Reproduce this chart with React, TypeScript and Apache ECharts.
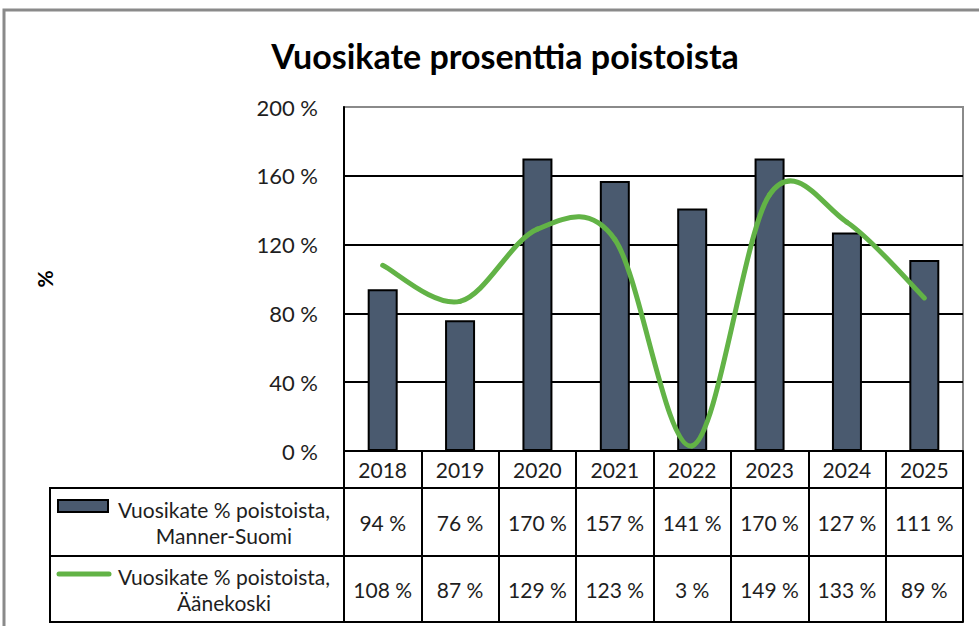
import React, { useEffect, useRef } from "react";
import * as echarts from "echarts";

const years = ["2018", "2019", "2020", "2021", "2022", "2023", "2024", "2025"];
const mannerSuomi = [94, 76, 170, 157, 141, 170, 127, 111];
const aanekoski = [108, 87, 129, 123, 3, 149, 133, 89];
const yMin = 0;
const yMax = 200;
const yInterval = 40;
const titleText = "Vuosikate prosenttia poistoista";
const seriesNames = [
  "Vuosikate % poistoista,\nManner-Suomi",
  "Vuosikate % poistoista,\nÄänekoski",
];

const FONT = "Lato";
const TXT = "#1e1e1e";
const BAR = "#4a5a6f";
const GREEN = "#62b346";

export default function App() {
  const ref = useRef<HTMLDivElement>(null);
  useEffect(() => {
    if (!ref.current) return;
    const chart = echarts.init(ref.current, null, { renderer: "svg" });
    const gl = 344, gt = 107, gw = 619, gh = 344;
    const row1 = 37, row2 = 68, row3 = 66;
    const tableLeft = 50;
    const n = aanekoski.length;
    const axisCommon = (offset: number, tickLen: number, margin: number, fmt?: (v: string, i: number) => string) => ({
      type: "category",
      data: years,
      position: "bottom",
      offset,
      boundaryGap: true,
      axisLine: { show: true, lineStyle: { color: "#000", width: 2 } },
      axisTick: { show: tickLen > 0, length: tickLen, interval: 0, lineStyle: { color: "#000", width: 2 } },
      axisLabel: {
        show: !!fmt || offset === 0,
        interval: 0,
        margin,
        verticalAlign: "middle",
        fontFamily: FONT,
        fontSize: 21,
        color: TXT,
        formatter: fmt,
      },
      splitLine: { show: false },
    });
    chart.setOption({
      animation: false,
      backgroundColor: "#fff",
      title: {
        text: titleText,
        left: 500,
        top: 33,
        textAlign: "center",
        textStyle: { fontFamily: FONT, fontWeight: "bold", fontSize: 34, color: "#000" },
      },
      grid: {
        left: gl,
        top: gt,
        width: gw,
        height: gh,
        show: true,
        borderColor: "#8a8a8a",
        borderWidth: 2,
        backgroundColor: "transparent",
      },
      xAxis: [
        axisCommon(0, row1, row1 / 2),
        axisCommon(row1, row2, row2 / 2, (_v, i) => mannerSuomi[i] + " %"),
        axisCommon(row1 + row2, row3, row3 / 2, (_v, i) => aanekoski[i] + " %"),
        axisCommon(row1 + row2 + row3, 0, 0),
      ],
      yAxis: {
        type: "value",
        min: yMin,
        max: yMax,
        interval: yInterval,
        name: "%",
        nameLocation: "middle",
        nameRotate: 90,
        nameGap: 289,
        nameTextStyle: { fontFamily: FONT, fontWeight: "bold", fontSize: 21, color: "#000" },
        axisLine: { show: true, lineStyle: { color: "#000", width: 2 } },
        axisTick: { show: false },
        axisLabel: {
          margin: 26,
          fontFamily: FONT,
          fontSize: 22,
          color: TXT,
          formatter: (v: number) => v + " %",
        },
        splitLine: {
          show: true,
          lineStyle: { color: ["#000", "#000", "#000", "#000", "#000", "#8a8a8a"], width: 2 },
        },
      },
      series: [
        {
          name: seriesNames[0],
          type: "bar",
          data: mannerSuomi,
          barWidth: 30,
          itemStyle: { color: BAR, borderColor: "#000", borderWidth: 2 },
          z: 2,
        },
        {
          name: seriesNames[1],
          type: "custom",
          data: aanekoski.map((v, i) => [i, v]),
          encode: { x: 0, y: 1 },
          clip: false,
          z: 3,
          renderItem: (params: any, api: any) => {
            const i = params.dataIndex;
            if (i >= n - 1) return null;
            const pt = (k: number) => {
              const kk = Math.max(0, Math.min(n - 1, k));
              return api.coord([kk, aanekoski[kk]]);
            };
            const p0 = pt(i - 1), p1 = pt(i), p2 = pt(i + 1), p3 = pt(i + 2);
            const c1x = p1[0] + (p2[0] - p0[0]) / 6;
            const c1y = p1[1] + (p2[1] - p0[1]) / 6;
            const c2x = p2[0] - (p3[0] - p1[0]) / 6;
            const c2y = p2[1] - (p3[1] - p1[1]) / 6;
            return {
              type: "bezierCurve",
              shape: { x1: p1[0], y1: p1[1], x2: p2[0], y2: p2[1], cpx1: c1x, cpy1: c1y, cpx2: c2x, cpy2: c2y },
              style: { stroke: GREEN, lineWidth: 5, fill: "none", lineCap: "round" },
            };
          },
        },
      ],
      graphic: [
        {
          type: "rect",
          shape: { x: 4, y: 10, width: 1000, height: 700 },
          style: { fill: "none", stroke: "#8a8a8a", lineWidth: 3 },
          silent: true,
          z: 0,
        },
        {
          type: "rect",
          shape: { x: tableLeft, y: gt + gh + row1, width: gl - tableLeft, height: row2 + row3 },
          style: { fill: "none", stroke: "#000", lineWidth: 2 },
          z: 10,
        },
        {
          type: "line",
          shape: { x1: tableLeft, y1: gt + gh + row1 + row2, x2: gl, y2: gt + gh + row1 + row2 },
          style: { stroke: "#000", lineWidth: 2 },
          z: 10,
        },
        {
          type: "rect",
          shape: { x: 58, y: 500, width: 50, height: 12 },
          style: { fill: BAR, stroke: "#000", lineWidth: 2 },
          z: 10,
        },
        {
          type: "line",
          shape: { x1: 59, y1: 574, x2: 109, y2: 574 },
          style: { stroke: GREEN, lineWidth: 5, lineCap: "round" },
          z: 10,
        },
        {
          type: "text",
          x: 224,
          y: gt + gh + row1 + row2 / 2,
          style: {
            text: seriesNames[0],
            align: "center",
            verticalAlign: "middle",
            lineHeight: 26,
            fontFamily: FONT,
            fontSize: 21,
            fill: TXT,
          },
          z: 10,
        },
        {
          type: "text",
          x: 224,
          y: gt + gh + row1 + row2 + row3 / 2,
          style: {
            text: seriesNames[1],
            align: "center",
            verticalAlign: "middle",
            lineHeight: 26,
            fontFamily: FONT,
            fontSize: 21,
            fill: TXT,
          },
          z: 10,
        },
      ],
    });
    return () => chart.dispose();
  }, []);
  return (
    <div
      ref={ref}
      style={{ position: "fixed", left: 0, top: 0, width: 979, height: 626, background: "#fff" }}
    />
  );
}
